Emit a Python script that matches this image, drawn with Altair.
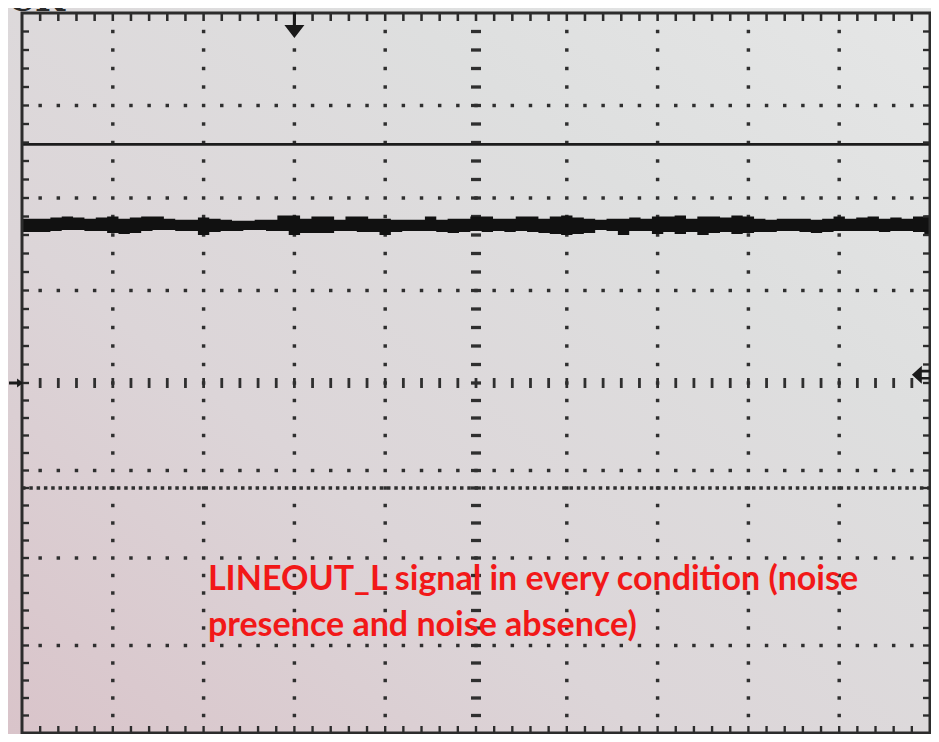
import altair as alt
import numpy as np
import pandas as pd

# ------------------------------------------------------------------
# Values (units = screen divisions, centre = 0)
# ------------------------------------------------------------------
# upper / lower edge of the thick noisy trace, sampled every 1/8 division
trace_hi = [
    1.777, 1.777, 1.777, 1.788, 1.799, 1.788, 1.777, 1.788, 1.799, 1.777,
    1.788, 1.799, 1.799, 1.777, 1.766, 1.766, 1.788, 1.777, 1.766, 1.754,
    1.754, 1.766, 1.766, 1.810, 1.810, 1.777, 1.799, 1.799, 1.766, 1.799,
    1.799, 1.777, 1.777, 1.766, 1.766, 1.766, 1.799, 1.766, 1.777, 1.777,
    1.799, 1.799, 1.777, 1.777, 1.799, 1.799, 1.777, 1.799, 1.810, 1.788,
    1.777, 1.766, 1.777, 1.777, 1.788, 1.777, 1.799, 1.799, 1.810, 1.777,
    1.799, 1.799, 1.788, 1.810, 1.799, 1.777, 1.766, 1.777, 1.777, 1.777,
    1.766, 1.777, 1.799, 1.777, 1.788, 1.799, 1.777, 1.788, 1.777, 1.799,
    1.810]
trace_lo = [
    1.632, 1.632, 1.632, 1.643, 1.654, 1.654, 1.643, 1.643, 1.621, 1.610,
    1.621, 1.643, 1.654, 1.654, 1.643, 1.643, 1.599, 1.632, 1.643, 1.643,
    1.654, 1.654, 1.643, 1.643, 1.599, 1.621, 1.621, 1.621, 1.643, 1.643,
    1.632, 1.632, 1.599, 1.632, 1.643, 1.643, 1.643, 1.632, 1.621, 1.632,
    1.643, 1.632, 1.643, 1.632, 1.643, 1.632, 1.621, 1.610, 1.599, 1.610,
    1.621, 1.654, 1.643, 1.599, 1.643, 1.643, 1.610, 1.632, 1.610, 1.632,
    1.599, 1.621, 1.632, 1.610, 1.621, 1.632, 1.632, 1.643, 1.643, 1.632,
    1.621, 1.632, 1.643, 1.643, 1.643, 1.643, 1.632, 1.643, 1.643, 1.632,
    1.610]
flat_trace_level = [2.58]      # thin flat trace
cursor_level = [-1.2]          # dense dotted cursor line
trigger_position = [3.0]       # arrow on top edge (divisions)
ground_level = [0.0]           # channel marker on left
trigger_level = [0.09]         # trigger marker on right
note_lines = ["LINEOUT_L signal in every condition (noise",
              "presence and noise absence)"]
header_fragment = ["CK"]

# ------------------------------------------------------------------
W, H = 908, 720
XS = alt.Scale(domain=[0, 10], range=[0, W], nice=False, zero=False)
YS = alt.Scale(domain=[-4, 0, 4], range=[H, 370, 0], nice=False, zero=False)


def X(f):
    return alt.X(f, type="quantitative", scale=XS, axis=None)


def Y(f):
    return alt.Y(f, type="quantitative", scale=YS, axis=None)


INK = "#1c1c1c"
GRID = "#2f2f2f"

minor_x = np.round(np.arange(0.2, 9.81, 0.2), 2)
minor_y = np.round(np.arange(-3.8, 3.81, 0.2), 2)
major_cols = [1, 2, 3, 4, 6, 7, 8, 9]
major_rows = [-3, -2, -1, 1, 2, 3]

# background (photo tint)
bg_df = pd.DataFrame({"x": [-0.3], "x2": [10.3], "y": [-4.2], "y2": [4.2]})
grad = alt.LinearGradient(
    gradient="linear", x1=0, y1=1, x2=1, y2=0,
    stops=[alt.GradientStop(color="#d9c3c9", offset=0),
           alt.GradientStop(color="#dcd5d8", offset=0.35),
           alt.GradientStop(color="#dedfdf", offset=0.7),
           alt.GradientStop(color="#e6e7e7", offset=1)])
bg = alt.Chart(bg_df).mark_rect(fill=grad).encode(
    x=X("x"), x2="x2", y=Y("y"), y2="y2")

# frame
frame_df = pd.DataFrame({"x": [0], "x2": [10], "y": [-4], "y2": [4]})
frame = alt.Chart(frame_df).mark_rect(
    fillOpacity=0, stroke="#2c2c2c", strokeWidth=3).encode(
    x=X("x"), x2="x2", y=Y("y"), y2="y2")


def pts(df, shape, size, color=GRID):
    return alt.Chart(df).mark_point(
        shape=shape, size=size, filled=True, opacity=1, color=color,
        strokeWidth=0).encode(x=X("x"), y=Y("y"))


left_t = pts(pd.DataFrame({"x": 0.0, "y": minor_y}), "M0,-0.17H1V0.17H0Z", 196, "#2c2c2c")
right_t = pts(pd.DataFrame({"x": 10.0, "y": minor_y}), "M0,-0.17H-1V0.17H0Z", 196, "#2c2c2c")
top_t = pts(pd.DataFrame({"x": minor_x, "y": 4.0}), "M-0.16,0H0.16V1H-0.16Z", 256, "#2c2c2c")
bot_t = pts(pd.DataFrame({"x": minor_x, "y": -4.0}), "M-0.17,0H0.17V-1H-0.17Z", 196, "#2c2c2c")

# dotted grid
gx, gy = [], []
for c in major_cols:
    for v in minor_y:
        gx.append(c); gy.append(v)
for r in major_rows:
    for v in minor_x:
        gx.append(v); gy.append(r)
grid_df = pd.DataFrame({"x": gx, "y": gy}).drop_duplicates()
grid = alt.Chart(grid_df).mark_square(size=12, color=GRID, opacity=1).encode(
    x=X("x"), y=Y("y"))

# centre cross graticule
crow = pts(pd.DataFrame({"x": minor_x, "y": 0.0}), "M-0.28,-1H0.28V1H-0.28Z", 100)
ccol = pts(pd.DataFrame({"x": 5.0, "y": minor_y}), "M-1,-0.33H1V0.33H-1Z", 100)

# cursor line (dense dots)
cur_df = pd.DataFrame({"x": [0.0], "x2": [10.0], "y": cursor_level})
cursor = alt.Chart(cur_df).mark_rule(
    color="#2f2f2f", strokeWidth=3.5, strokeDash=[3.5, 3.8]).encode(
    x=X("x"), x2="x2", y=Y("y"))

# thin flat trace
flat_df = pd.DataFrame({"x": [0.0], "x2": [10.0], "y": flat_trace_level})
flat = alt.Chart(flat_df).mark_rule(color=INK, strokeWidth=2.6).encode(
    x=X("x"), x2="x2", y=Y("y"))

# noisy trace
tr_df = pd.DataFrame({"x": np.linspace(0, 10, len(trace_hi)),
                      "hi": trace_hi, "lo": trace_lo})
trace = alt.Chart(tr_df).mark_area(
    interpolate="step", color="#111111", opacity=1).encode(
    x=X("x"), y=Y("hi"), y2="lo")

# markers
trig_arrow = pts(pd.DataFrame({"x": trigger_position, "y": [3.87]}),
                 "M-0.12,-1H0.12V0H0.77L0,1L-0.77,0H-0.12Z", 676, "#1a1a1a")
gnd_mark = pts(pd.DataFrame({"x": [-0.066], "y": ground_level}),
               "M-1,-0.2H0.15V-0.65L1,0L0.15,0.65V0.2H-1Z", 196, "#1a1a1a")
trl_mark = pts(pd.DataFrame({"x": [9.90], "y": trigger_level}),
               "M-1,0L0.1,-1V1Z M0,-0.55H1V-0.25H0Z M0,0.25H1V0.55H0Z", 324, "#1a1a1a")

# annotation text
note = alt.Chart(pd.DataFrame({"x": [2.048], "y": [-2.37]})).mark_text(
    text=note_lines, align="left", baseline="alphabetic", font="Lato",
    fontSize=34, fontWeight="bold", color="#f21818", lineHeight=46).encode(
    x=X("x"), y=Y("y"))

header = alt.Chart(pd.DataFrame({"x": [-0.154], "y": [4.022]})).mark_text(
    text=header_fragment[0], align="left", baseline="alphabetic",
    font="DejaVu Serif", fontSize=34, fontWeight="bold", color="#2a2a2a").encode(
    x=X("x"), y=Y("y"))

chart = alt.layer(
    bg, grid, crow, ccol, cursor, flat, trace,
    left_t, right_t, top_t, bot_t, frame,
    trig_arrow, gnd_mark, trl_mark, note, header
).properties(
    width=W, height=H,
    autosize=alt.AutoSizeParams(type="none"),
    padding={"left": 14, "top": 5, "right": 1, "bottom": 1},
    background="#dcdcdc",
).configure_view(strokeWidth=0)

chart.save("out.html", embed_options={"renderer": "svg", "actions": False})
